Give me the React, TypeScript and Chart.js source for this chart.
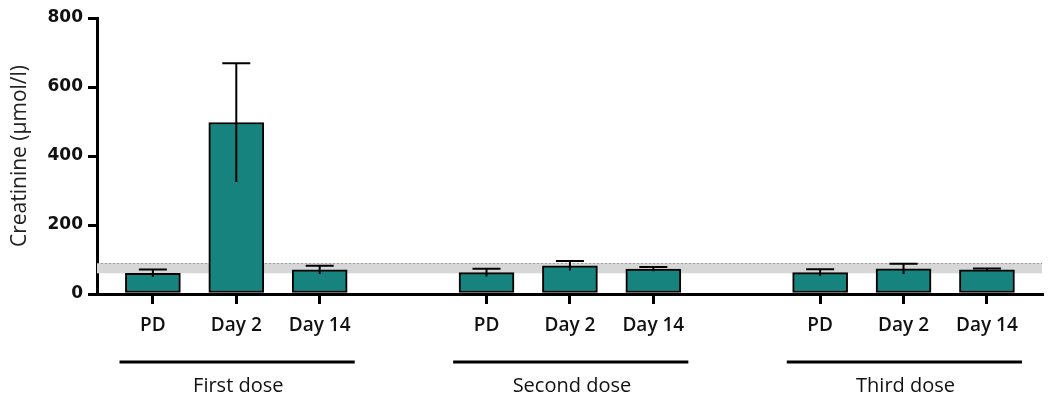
import React, { useEffect, useRef } from "react";
import { Chart, registerables } from "chart.js";

Chart.register(...registerables);

const categories = ["PD", "Day 2", "Day 14", "PD", "Day 2", "Day 14", "PD", "Day 2", "Day 14"];
const positions = [0, 1, 2, 4, 5, 6, 8, 9, 10];
const means = [60, 497, 70, 62, 82, 72, 62, 73, 70];
const errors = [11, 172, 12, 11, 14, 6, 10, 15, 4];
const groupNames = ["First dose", "Second dose", "Third dose"];
const groupStart = [0, 4, 8];
const groupEnd = [2, 6, 10];
const refLow = 60;
const refHigh = 90;
const yTicks = [0, 200, 400, 600, 800];

const FONT = "'Open Sans', Lato, sans-serif";

export default function App() {
  const ref = useRef<HTMLCanvasElement>(null);
  useEffect(() => {
    document.body.style.margin = "0";
    const canvas = ref.current!;
    const bandPlugin = {
      id: "band",
      beforeDatasetsDraw(chart: any) {
        const { ctx, chartArea, scales } = chart;
        const yHi = scales.y.getPixelForValue(refHigh);
        const yLo = scales.y.getPixelForValue(refLow);
        ctx.save();
        ctx.fillStyle = "#d7d7d7";
        ctx.fillRect(chartArea.left, yHi, chartArea.right - chartArea.left, yLo - yHi);
        ctx.strokeStyle = "#9a9a9a";
        ctx.lineWidth = 1;
        ctx.setLineDash([2, 2]);
        ctx.beginPath();
        ctx.moveTo(chartArea.left, yHi + 0.5);
        ctx.lineTo(chartArea.right, yHi + 0.5);
        ctx.stroke();
        ctx.restore();
      },
    };
    const errPlugin = {
      id: "errbars",
      afterDatasetsDraw(chart: any) {
        const { ctx, scales } = chart;
        const meta = chart.getDatasetMeta(0);
        ctx.save();
        ctx.strokeStyle = "#000";
        ctx.lineWidth = 2;
        meta.data.forEach((bar: any, i: number) => {
          const x = bar.x;
          const top = scales.y.getPixelForValue(means[i] + errors[i]);
          const bot = scales.y.getPixelForValue(means[i] - errors[i]);
          ctx.beginPath();
          ctx.moveTo(x, bot);
          ctx.lineTo(x, top);
          ctx.moveTo(x - 14, top);
          ctx.lineTo(x + 14, top);
          ctx.stroke();
        });
        ctx.restore();
      },
    };
    const groupPlugin = {
      id: "groups",
      afterDraw(chart: any) {
        const { ctx, scales } = chart;
        ctx.save();
        ctx.strokeStyle = "#000";
        ctx.lineWidth = 3;
        ctx.fillStyle = "#111";
        ctx.font = `20px ${FONT}`;
        ctx.textAlign = "center";
        ctx.textBaseline = "middle";
        groupNames.forEach((name, g) => {
          const x0 = scales.x.getPixelForValue(groupStart[g] - 0.4);
          const x1 = scales.x.getPixelForValue(groupEnd[g] + 0.42);
          ctx.beginPath();
          ctx.moveTo(x0, 362);
          ctx.lineTo(x1, 362);
          ctx.stroke();
          const xc = scales.x.getPixelForValue((groupStart[g] + groupEnd[g]) / 2);
          ctx.fillText(name, xc + 2, 386);
        });
        ctx.restore();
      },
    };
    const chart = new Chart(canvas, {
      type: "bar",
      data: {
        datasets: [
          {
            data: positions.map((p, i) => ({ x: p, y: means[i] })),
            backgroundColor: "#16837e",
            borderColor: "#000",
            borderWidth: 2,
            borderSkipped: false,
            barThickness: 55,
          },
        ],
      },
      options: {
        animation: false,
        responsive: false,
        maintainAspectRatio: false,
        layout: { padding: { top: 18, right: 6, left: 0, bottom: 0 } },
        plugins: { legend: { display: false }, tooltip: { enabled: false } },
        scales: {
          x: {
            type: "linear",
            offset: false,
            min: -0.67,
            max: 10.66,
            afterFit(scale: any) {
              scale.height = 111;
            },
            afterBuildTicks(scale: any) {
              scale.ticks = positions.map((v) => ({ value: v }));
            },
            ticks: {
              autoSkip: false,
              maxRotation: 0,
              padding: 10,
              color: "#111",
              font: { family: FONT, size: 19, weight: "600" },
              callback: (v: any) => {
                const i = positions.indexOf(Number(v));
                return i >= 0 ? categories[i] : "";
              },
            },
            grid: {
              offset: false,
              drawOnChartArea: false,
              tickLength: 10,
              lineWidth: 3,
              color: "#000",
            },
            border: { color: "#000", width: 3 },
          },
          y: {
            min: 0,
            max: 800,
            afterFit(scale: any) {
              scale.width = 97;
            },
            afterBuildTicks(scale: any) {
              scale.ticks = yTicks.map((v) => ({ value: v }));
            },
            ticks: {
              padding: 5,
              color: "#111",
              font: { family: "'DejaVu Sans', sans-serif", size: 17, weight: "bold" },
            },
            grid: {
              drawOnChartArea: false,
              tickLength: 9,
              lineWidth: 3,
              color: "#000",
            },
            border: { color: "#000", width: 3 },
            title: {
              display: true,
              text: "Creatinine (µmol/l)",
              color: "#222",
              font: { family: FONT, size: 21 },
              padding: { top: 7, bottom: 0 },
            },
          },
        },
      },
      plugins: [bandPlugin, errPlugin, groupPlugin],
    });
    return () => chart.destroy();
  }, []);
  return <canvas ref={ref} width={1048} height={405} style={{ display: "block" }} />;
}
